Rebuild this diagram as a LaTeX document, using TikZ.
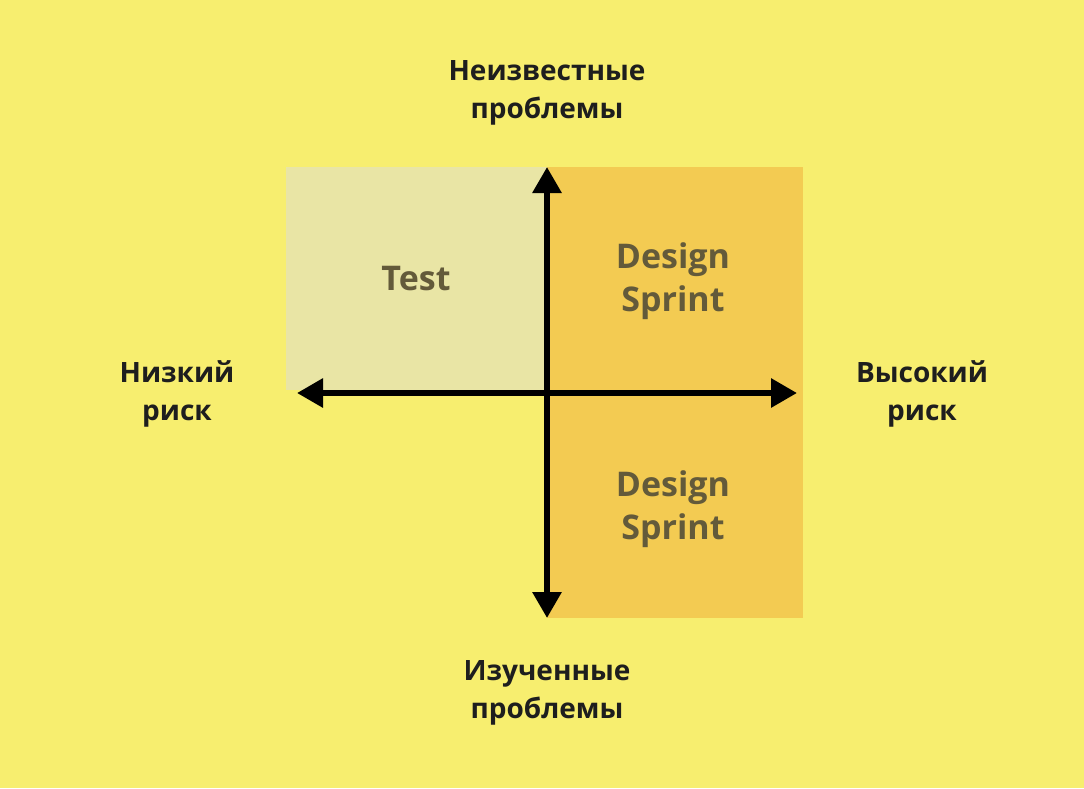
\documentclass[tikz,border=0pt]{standalone}
\usepackage{fontspec}
\setmainfont{Open Sans}
\usetikzlibrary{arrows.meta}
\definecolor{bg}{HTML}{F7EE6F}
\definecolor{testfill}{HTML}{E9E5A5}
\definecolor{dsfill}{HTML}{F3CB52}
\definecolor{qtext}{HTML}{635A3A}
\definecolor{ltext}{HTML}{1E1E1E}
\tikzset{
  axis2/.style={line width=6pt, {Triangle[length=26pt,width=28pt]}-{Triangle[length=26pt,width=28pt]}},
  lbl/.style={align=center, text=ltext, font=\fontsize{28}{38}\selectfont\bfseries, inner sep=0pt},
  qlbl/.style={align=center, text=qtext, font=\fontsize{34}{43}\selectfont\bfseries, inner sep=0pt}
}
\begin{document}
\begin{tikzpicture}[x=1pt,y=-1pt]
\fill[bg] (0,0) rectangle (1084,788);
\useasboundingbox (0,0) rectangle (1084,788);
\fill[testfill] (286,167) rectangle (547,390);
\fill[dsfill] (547,167) rectangle (803,618);
\coordinate (L) at (297,393);
\coordinate (R) at (797,393);
\coordinate (T) at (547,167);
\coordinate (B) at (547,618);
\draw[axis2] (L) -- (R);
\draw[axis2] (B) -- (T);
\node[qlbl] (test) at (416,279) {Test};
\node[qlbl] (ds1) at (673,281) {Design\\Sprint};
\node[qlbl] (ds2) at (673,509) {Design\\Sprint};
\node[lbl] (top) at (547,93) {Неизвестные\\проблемы};
\node[lbl] (bot) at (547,693) {Изученные\\проблемы};
\node[lbl] (left) at (177,394) {Низкий\\риск};
\node[lbl] (right) at (922,394) {Высокий\\риск};
\end{tikzpicture}
\end{document}
